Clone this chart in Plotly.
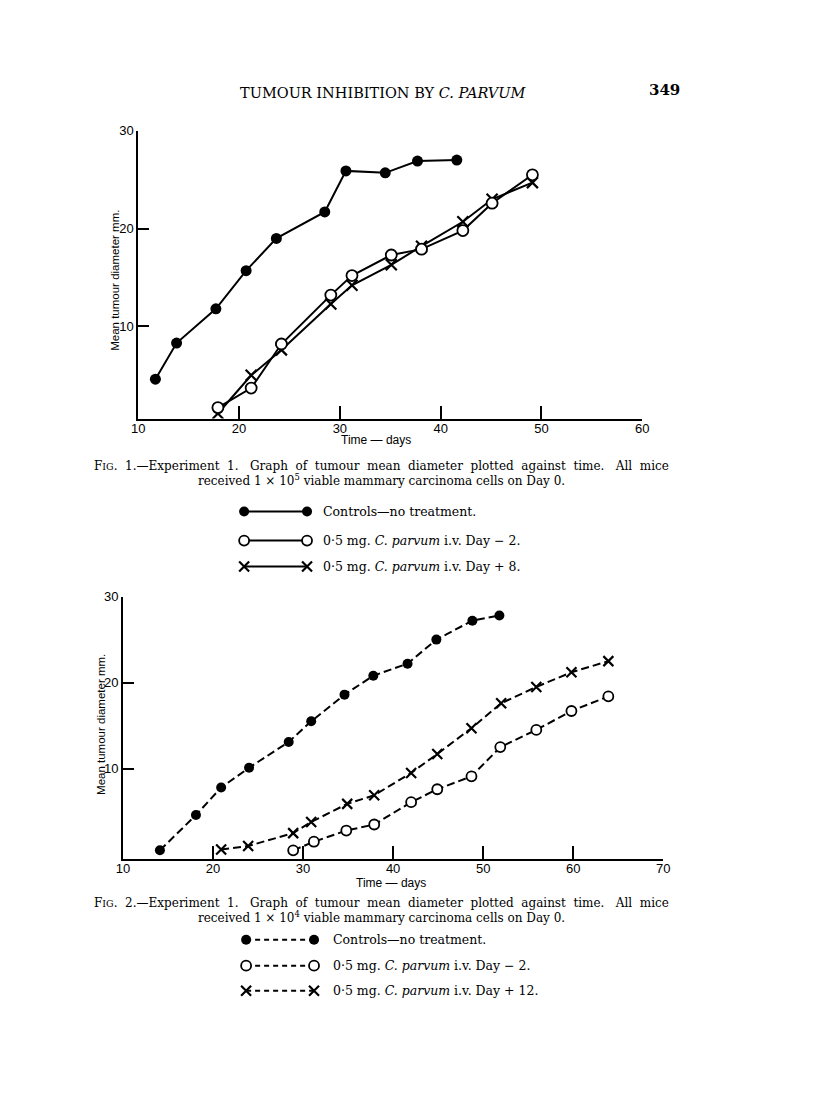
import plotly.graph_objects as go

# ---------------- data ----------------
# Fig. 1 (solid lines)
f1_ctrl_days = [11.7, 13.8, 17.7, 20.7, 23.7, 28.5, 30.6, 34.5, 37.7, 41.6]
f1_ctrl_diam = [4.6, 8.3, 11.8, 15.7, 19.0, 21.7, 25.9, 25.7, 26.9, 27.0]
f1_pre_days = [17.9, 21.2, 24.2, 29.1, 31.2, 35.1, 38.1, 42.2, 45.1, 49.1]
f1_pre_diam = [1.7, 3.7, 8.2, 13.2, 15.2, 17.3, 17.9, 19.8, 22.6, 25.5]
f1_post_days = [17.9, 21.2, 24.2, 29.1, 31.2, 35.1, 38.1, 42.2, 45.1, 49.1]
f1_post_diam = [1.1, 5.0, 7.6, 12.3, 14.2, 16.3, 18.2, 20.7, 23.0, 24.7]

# Fig. 2 (dashed lines)
f2_ctrl_days = [14.1, 18.1, 20.9, 24.0, 28.4, 30.9, 34.6, 37.8, 41.6, 44.8, 48.8, 51.8]
f2_ctrl_diam = [0.5, 4.6, 7.8, 10.1, 13.1, 15.5, 18.6, 20.8, 22.2, 25.0, 27.2, 27.8]
f2_pre_days = [28.9, 31.2, 34.8, 37.9, 42.0, 44.9, 48.7, 51.9, 55.9, 59.8, 63.9]
f2_pre_diam = [0.5, 1.5, 2.8, 3.5, 6.1, 7.6, 9.1, 12.5, 14.5, 16.7, 18.4]
f2_post_days = [20.9, 23.9, 28.9, 30.9, 34.9, 37.9, 42.0, 44.9, 48.7, 52.0, 55.9, 59.8, 63.9]
f2_post_diam = [0.6, 1.0, 2.5, 3.8, 5.9, 6.9, 9.5, 11.7, 14.7, 17.6, 19.5, 21.2, 22.5]

f1_xticks = [10, 20, 30, 40, 50, 60]
f2_xticks = [10, 20, 30, 40, 50, 60, 70]
yticks = [10, 20, 30]

header_text = "TUMOUR INHIBITION BY <i>C. PARVUM</i>"
page_number = "349"
y_title = "Mean tumour diameter mm."
x_title = "Time \u2014 days"
NB2 = "\u00a0\u00a0"
NB3 = "\u00a0\u00a0\u00a0"
def cap_line1(n):
    words = ["F<span style='font-size:9.5px'>IG</span>.", n + ".\u2014Experiment", "1." + NB3 + "Graph",
             "of", "tumour", "mean", "diameter", "plotted", "against", "time." + NB3 + "All", "mice"]
    return NB2.join(words)
cap1_l1 = cap_line1("1")
cap1_l2 = "received 1 \u00d7 10<sup>5</sup> viable mammary carcinoma cells on Day 0."
cap2_l1 = cap_line1("2")
cap2_l2 = "received 1 \u00d7 10<sup>4</sup> viable mammary carcinoma cells on Day 0."
leg1 = ["Controls\u2014no treatment.",
        "0\u00b75 mg. <i>C. parvum</i> i.v. Day \u2212 2.",
        "0\u00b75 mg. <i>C. parvum</i> i.v. Day + 8."]
leg2 = ["Controls\u2014no treatment.",
        "0\u00b75 mg. <i>C. parvum</i> i.v. Day \u2212 2.",
        "0\u00b75 mg. <i>C. parvum</i> i.v. Day + 12."]

# ---------------- layout helpers ----------------
# page body has an 8px margin; A*/B* calibrate page pixels to figure placement
OFF = 8
W, H = 816 - 2 * OFF, 1118 - 2 * OFF
AX, BX = 0.9838, 5.7
AY, BY = 0.9934, 6.6
def fx(px):
    return ((px - BX) / AX - OFF) / W
def fy(py):
    return 1 - ((py - BY) / AY - OFF) / H

SANS = "Liberation Sans Narrow, Liberation Sans, Arial, sans-serif"
SERIF = "DejaVu Serif, Liberation Serif, serif"

def markers(kind, size):
    if kind == "ctrl":
        return dict(symbol="circle", size=size, color="black", line=dict(width=0))
    if kind == "pre":
        return dict(symbol="circle", size=size, color="white", line=dict(width=1.8, color="black"))
    return dict(symbol="x-thin", size=size, color="black", line=dict(width=2.2, color="black"))

fig = go.Figure()

def add_series(xs, ys, kind, xa, ya, dash, size):
    fig.add_trace(go.Scatter(
        x=xs, y=ys, mode="lines+markers", xaxis=xa, yaxis=ya,
        line=dict(color="black", width=2, dash=dash),
        marker=markers(kind, size), showlegend=False, hoverinfo="skip"))

add_series(f1_post_days, f1_post_diam, "post", "x", "y", "solid", 11)
add_series(f1_pre_days, f1_pre_diam, "pre", "x", "y", "solid", 11)
add_series(f1_ctrl_days, f1_ctrl_diam, "ctrl", "x", "y", "solid", 11)
DASH = "8px,4px"
add_series(f2_pre_days, f2_pre_diam, "pre", "x2", "y2", DASH, 10)
add_series(f2_post_days, f2_post_diam, "post", "x2", "y2", DASH, 10)
add_series(f2_ctrl_days, f2_ctrl_diam, "ctrl", "x2", "y2", DASH, 10)

# legend keys, drawn on an invisible page-pixel overlay axis
def legend_key(kind, y, x0, x1, dash):
    fig.add_trace(go.Scatter(
        x=[x0, x1], y=[y, y], mode="lines+markers", xaxis="x3", yaxis="y3",
        line=dict(color="black", width=2, dash=dash), marker=markers(kind, 10),
        showlegend=False, hoverinfo="skip"))

leg1_rows = [511, 540, 566]
leg2_rows = [939, 965, 990]
for kind, yy in zip(["ctrl", "pre", "post"], leg1_rows):
    legend_key(kind, yy, 243, 306, "solid")
for kind, yy in zip(["ctrl", "pre", "post"], leg2_rows):
    legend_key(kind, yy, 245, 313, "5px,4px")

axis_common = dict(
    showline=True, linecolor="black", linewidth=2, ticks="inside",
    tickcolor="black", tickwidth=1.5, showgrid=False, zeroline=False,
    tickfont=dict(family=SANS, size=13, color="black"), fixedrange=True)

fig.update_layout(
    width=W, height=H, margin=dict(l=0, r=0, t=0, b=0),
    paper_bgcolor="white", plot_bgcolor="rgba(0,0,0,0)", showlegend=False,
    xaxis=dict(domain=[fx(137), fx(641.7)], range=[10, 60], anchor="y",
               tickvals=f1_xticks, ticklen=13, ticklabelstandoff=-3, **axis_common),
    yaxis=dict(domain=[fy(418), fy(130.3)], range=[0.58, 30], anchor="x",
               tickvals=yticks, ticklen=11, ticklabelstandoff=0, **axis_common),
    xaxis2=dict(domain=[fx(121.7), fx(662.7)], range=[10, 70], anchor="y2",
                tickvals=f2_xticks, ticklen=13, ticklabelstandoff=-3, **axis_common),
    yaxis2=dict(domain=[fy(858), fy(596)], range=[-0.47, 30], anchor="x2",
                tickvals=yticks, ticklen=11, ticklabelstandoff=0, **axis_common),
    xaxis3=dict(domain=[0, 1], range=[AX * OFF + BX, AX * (OFF + W) + BX],
                visible=False, anchor="y3", fixedrange=True),
    yaxis3=dict(domain=[0, 1], range=[AY * (OFF + H) + BY, AY * OFF + BY],
                visible=False, anchor="x3", fixedrange=True),
)

ann = []
def text(t, px, py, size, family=SERIF, xanchor="center", angle=0):
    ann.append(dict(text=t, x=fx(px), y=fy(py), xref="paper", yref="paper",
                    xanchor=xanchor, yanchor="middle", showarrow=False, textangle=angle,
                    font=dict(family=family, size=size, color="black")))

text(header_text, 383, 93, 14.5)
text("<b>" + page_number + "</b>", 664, 90, 15)
# axis titles
text(y_title, 113, 280, 11.5, family=SANS, angle=-90)
text(x_title, 375, 439, 12, family=SANS)
text(y_title, 99, 724, 11.5, family=SANS, angle=-90)
text(x_title, 390, 882, 12, family=SANS)
# captions
text(cap1_l1, 381, 465, 12)
text(cap1_l2, 381, 479, 12)
text(cap2_l1, 381, 902, 12)
text(cap2_l2, 381, 916, 12)
for t, yy in zip(leg1, leg1_rows):
    text(t, 320, yy, 12.5, xanchor="left")
for t, yy in zip(leg2, leg2_rows):
    text(t, 330, yy, 12.5, xanchor="left")

fig.update_layout(annotations=ann)
fig.write_html("out.html")
